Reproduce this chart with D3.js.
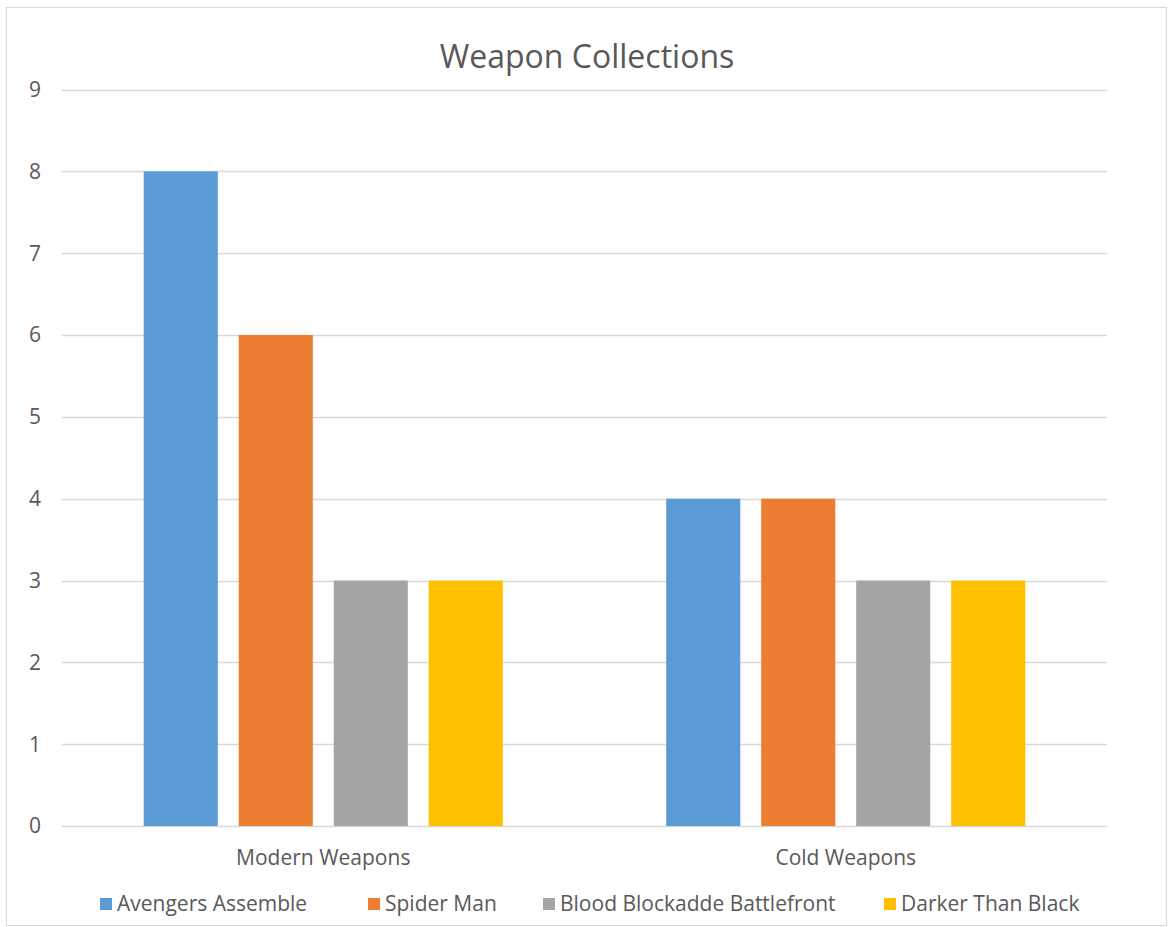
<!DOCTYPE html>
<html>
<head>
<meta charset="utf-8">
<script src="https://cdn.jsdelivr.net/npm/d3@7"></script>
<style>
  body { margin: 0; background: #fff; }
  text { font-family: "Open Sans", "Noto Sans", sans-serif; fill: #595959; }
</style>
</head>
<body>
<div id="chart"></div>
<script>
var categories = ["Modern Weapons", "Cold Weapons"];
var series = ["Avengers Assemble", "Spider Man", "Blood Blockadde Battlefront", "Darker Than Black"];
var values = [
	[8, 4],   // Avengers Assemble
	[6, 4],   // Spider Man
	[3, 3],   // Blood Blockadde Battlefront
	[3, 3]    // Darker Than Black
];
var colors = ["#5B9BD5", "#ED7D31", "#A5A5A5", "#FFC000"];
var yTicks = [0, 1, 2, 3, 4, 5, 6, 7, 8, 9];

var W = 1170, H = 927;
var svg = d3.select("#chart").append("svg")
	.attr("width", W)
	.attr("height", H);

// chart frame
svg.append("rect")
	.attr("x", 6.5).attr("y", 7.5)
	.attr("width", 1160).attr("height", 918)
	.attr("fill", "#fff")
	.attr("stroke", "#D9D9D9");

var x0 = d3.scaleBand().domain(categories).range([62, 1107]);
var x1 = d3.scaleBand().domain(series).range([0, x0.bandwidth()])
	.paddingInner(0.22).paddingOuter(0.86);
var y = d3.scaleLinear().domain([0, 9]).range([826, 89.5]);

// gridlines
svg.append("g").selectAll("line")
	.data(yTicks)
	.enter().append("line")
	.attr("x1", 62).attr("x2", 1107)
	.attr("y1", function(d){ return Math.round(y(d)) + 0.5; })
	.attr("y2", function(d){ return Math.round(y(d)) + 0.5; })
	.attr("stroke", "#D9D9D9")
	.attr("stroke-width", 1.5);

// y tick labels
svg.append("g").selectAll("text")
	.data(yTicks)
	.enter().append("text")
	.attr("x", 35)
	.attr("y", function(d){ return y(d); })
	.attr("dy", "0.35em")
	.attr("text-anchor", "middle")
	.style("font-size", "21px")
	.text(function(d){ return d; });

// bars
series.forEach(function(s, i){
	svg.append("g").selectAll("rect")
		.data(values[i])
		.enter().append("rect")
		.attr("x", function(d, j){ return x0(categories[j]) + x1(s); })
		.attr("y", function(d){ return y(d); })
		.attr("width", x1.bandwidth())
		.attr("height", function(d){ return y(0) - y(d); })
		.attr("fill", colors[i]);
});

// category labels
svg.append("g").selectAll("text")
	.data(categories)
	.enter().append("text")
	.attr("x", function(d){ return x0(d) + x0.bandwidth() / 2; })
	.attr("y", 858)
	.attr("dy", "0.35em")
	.attr("text-anchor", "middle")
	.style("font-size", "21px")
	.text(function(d){ return d; });

// title
svg.append("text")
	.attr("x", 587)
	.attr("y", 57)
	.attr("dy", "0.35em")
	.attr("text-anchor", "middle")
	.style("font-size", "32px")
	.text("Weapon Collections");

// legend
var legendX = [100, 368, 543, 884];
var lg = svg.append("g").selectAll("g")
	.data(series)
	.enter().append("g")
	.attr("transform", function(d, i){ return "translate(" + legendX[i] + ",898)"; });
lg.append("rect")
	.attr("width", 12).attr("height", 12)
	.attr("fill", function(d, i){ return colors[i]; });
lg.append("text")
	.attr("x", 17).attr("y", 6)
	.attr("dy", "0.35em")
	.style("font-size", "21px")
	.text(function(d){ return d; });
</script>
</body>
</html>
